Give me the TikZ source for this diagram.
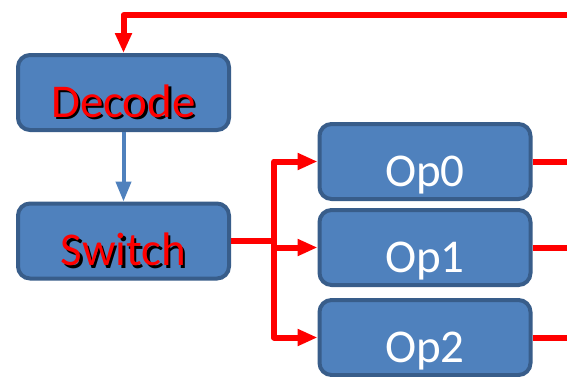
\documentclass[tikz,border=0pt]{standalone}
\usepackage{fontspec}
\newfontfamily\boxfont{Carlito}
\usepackage{tikz}
\usetikzlibrary{positioning,arrows.meta}

\definecolor{opfill}{RGB}{79,129,189}
\definecolor{opline}{RGB}{56,93,138}

% red text with a black drop shadow
\newcommand\redshadow[1]{\rlap{\kern2.5pt\raisebox{-2.5pt}{\color{black}#1}}\textcolor{red}{#1}}

\begin{document}
\begin{tikzpicture}[
  x=1pt, y=-1pt,
  opbox/.style={rectangle, rounded corners=12pt, fill=opfill, draw=opline,
    line width=4pt, minimum width=211pt, inner xsep=0pt, inner ysep=0pt,
    text height=62pt, text depth=13pt, text=white,
    font=\boxfont\fontsize{47}{50}\selectfont},
  redline/.style={draw=red, line width=6pt, line join=round},
  redarr/.style={redline, -{Triangle[length=20pt,width=16pt]}},
  bluearr/.style={draw=opfill, line width=4pt, -{Triangle[length=20pt,width=15pt]}},
]
\fill[white] (0,0) rectangle (567,376);
\useasboundingbox (0,0) rectangle (567,376);

\node[opbox] (dec) at (123.5,92.5) {\redshadow{Decode}};
\node[opbox] (sw)  at (123.5,241)  {\redshadow{Switch}};
\node[opbox] (op0) at (425,161.5) {Op0};
\node[opbox] (op1) at (425,247.5) {Op1};
\node[opbox] (op2) at (425,337.5) {Op2};

\coordinate (back) at (590,15);
\coordinate (bus) at (274,241);
\coordinate (rim) at (590,0);

% loop back into decode
\draw[redarr] (back) -| (dec.north);
\draw[bluearr] (dec.south) -- (sw.north);

% dispatch
\draw[redarr] (sw.east) -- (bus) |- (op0.west);
\draw[redarr] (bus) |- (op2.west);
\draw[redarr] (bus |- op1.west) -- (op1.west);

\foreach \i in {0,1,2}
  \draw[redline] (op\i.east) -- (op\i.east -| rim);
\end{tikzpicture}
\end{document}
